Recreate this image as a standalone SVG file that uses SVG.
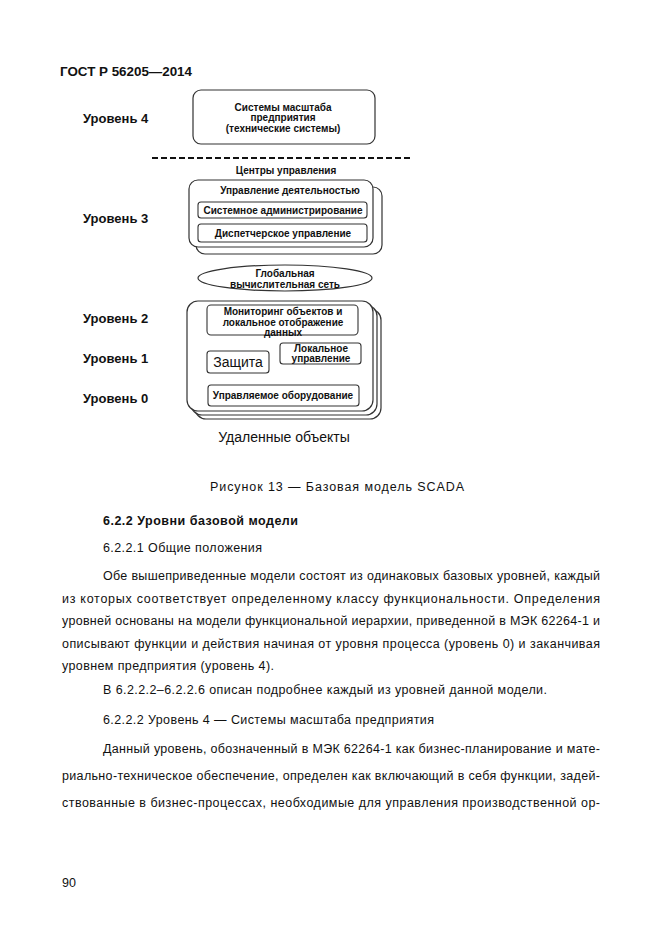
<svg xmlns="http://www.w3.org/2000/svg" width="661" height="935" viewBox="0 0 661 935">
<style>
.bg{fill:#fff}
.box{fill:#fff;stroke:#333;stroke-width:1.2}
.ibox{fill:#fff;stroke:#333;stroke-width:1.1}
.t{font-family:"Liberation Sans",Arial,sans-serif;fill:#111}
.db{font-size:10px;font-weight:bold;text-anchor:middle}
.lvl{font-size:13px;font-weight:bold}
.body{font-size:12.5px}
</style>
<rect class="bg" x="0" y="0" width="661" height="935"/>
<text class="t" x="60" y="76" font-size="13" font-weight="bold" textLength="132" lengthAdjust="spacingAndGlyphs">ГОСТ Р 56205—2014</text>

<g id="labels">
<text class="t lvl" x="83" y="123">Уровень 4</text>
<text class="t lvl" x="83" y="223">Уровень 3</text>
<text class="t lvl" x="83" y="323">Уровень 2</text>
<text class="t lvl" x="83" y="363">Уровень 1</text>
<text class="t lvl" x="83" y="403">Уровень 0</text>
</g>

<g id="level4">
<rect class="box" x="193" y="90" width="182" height="54" rx="8"/>
<text class="t db" x="283" y="111">Системы масштаба</text>
<text class="t db" x="283" y="121">предприятия</text>
<text class="t db" x="283" y="132">(технические системы)</text>
</g>

<g id="separator">
<line x1="152" y1="158" x2="410" y2="158" stroke="#111" stroke-width="2" stroke-dasharray="6 3"/>
<text class="t db" x="286" y="174">Центры управления</text>
</g>

<g id="level3">
<rect class="box" x="196" y="187" width="186" height="67" rx="9"/>
<rect class="box" x="189" y="180" width="184" height="67" rx="9"/>
<text class="t db" x="290" y="194">Управление деятельностью</text>
<g id="sysadmin">
<rect class="ibox" x="198" y="202" width="169" height="16" rx="3"/>
<text class="t db" x="283" y="214">Системное администрирование</text>
</g>
<g id="dispatch">
<rect class="ibox" x="198" y="224" width="169" height="18" rx="3"/>
<text class="t db" x="283" y="237">Диспетчерское управление</text>
</g>
</g>

<g id="network">
<ellipse class="box" cx="285" cy="278" rx="87" ry="13"/>
<text class="t db" x="285" y="277">Глобальная</text>
<text class="t db" x="285" y="288">вычислительная сеть</text>
</g>

<g id="remote">
<rect class="box" x="195" y="309" width="186" height="110" rx="11"/>
<rect class="box" x="191" y="305" width="186" height="110" rx="11"/>
<rect class="box" x="187" y="301" width="186" height="110" rx="11"/>
<g id="monitoring">
<rect class="ibox" x="207" y="305" width="151" height="30" rx="4"/>
<text class="t db" x="283" y="315">Мониторинг объектов и</text>
<text class="t db" x="283" y="326">локальное отображение</text>
<text class="t db" x="283" y="336">данных</text>
</g>
<g id="protection">
<rect class="ibox" x="207" y="351" width="62" height="22" rx="3"/>
<text class="t" x="238" y="367" font-size="14" text-anchor="middle">Защита</text>
</g>
<g id="localctl">
<rect class="ibox" x="280" y="343" width="81" height="21" rx="3"/>
<text class="t db" x="321" y="352">Локальное</text>
<text class="t db" x="321" y="362">управление</text>
</g>
<g id="equipment">
<rect class="ibox" x="208" y="385" width="151" height="21" rx="3"/>
<text class="t db" x="283" y="399">Управляемое оборудование</text>
</g>
</g>
<text class="t" x="284" y="442" font-size="14" text-anchor="middle">Удаленные объекты</text>

<text class="t body" x="210" y="491" textLength="254" lengthAdjust="spacing">Рисунок 13 — Базовая модель SCADA</text>

<g id="bodytext">
<text class="t body" x="103" y="525" font-weight="bold" textLength="195" lengthAdjust="spacing">6.2.2 Уровни базовой модели</text>
<text class="t body" x="103" y="552" textLength="159" lengthAdjust="spacing">6.2.2.1 Общие положения</text>
<text class="t body" x="103" y="580" textLength="497" lengthAdjust="spacing">Обе вышеприведенные модели состоят из одинаковых базовых уровней, каждый</text>
<text class="t body" x="62" y="603" textLength="538" lengthAdjust="spacing">из которых соответствует определенному классу функциональности. Определения</text>
<text class="t body" x="62" y="625" textLength="538" lengthAdjust="spacing">уровней основаны на модели функциональной иерархии, приведенной в МЭК 62264-1 и</text>
<text class="t body" x="62" y="648" textLength="538" lengthAdjust="spacing">описывают функции и действия начиная от уровня процесса (уровень 0) и заканчивая</text>
<text class="t body" x="62" y="670" textLength="212" lengthAdjust="spacing">уровнем предприятия (уровень 4).</text>
<text class="t body" x="103" y="694" textLength="444" lengthAdjust="spacing">В 6.2.2.2–6.2.2.6 описан подробнее каждый из уровней данной модели.</text>
<text class="t body" x="103" y="724" textLength="331" lengthAdjust="spacing">6.2.2.2 Уровень 4 — Системы масштаба предприятия</text>
<text class="t body" x="103" y="753" textLength="497" lengthAdjust="spacing">Данный уровень, обозначенный в МЭК 62264-1 как бизнес-планирование и мате-</text>
<text class="t body" x="62" y="780" textLength="538" lengthAdjust="spacing">риально-техническое обеспечение, определен как включающий в себя функции, задей-</text>
<text class="t body" x="62" y="807" textLength="538" lengthAdjust="spacing">ствованные в бизнес-процессах, необходимые для управления производственной ор-</text>
</g>
<text class="t body" x="62" y="887">90</text>
</svg>
